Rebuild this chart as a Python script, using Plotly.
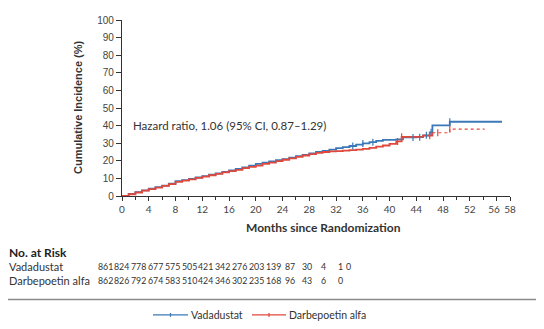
import plotly.graph_objects as go

# ---------------- data ----------------
vad_months = [0, 1, 2, 3, 4, 5, 6, 7, 8, 9, 10, 11, 12, 13, 14, 15, 16, 17, 18, 19, 20,
              21, 22, 23, 24, 25, 26, 27, 28, 29, 30, 31, 32, 33, 34, 35, 36, 37, 38, 39,
              40, 41, 42, 43, 44, 45, 46, 46.4, 49, 56.8]
vad_inc = [0, 1.2, 2.2, 3.2, 4.2, 5.0, 5.9, 7.0, 8.5, 9.0, 9.7, 10.5, 11.3, 12.1, 12.9, 13.7,
           14.6, 15.4, 16.3, 17.3, 18.3, 19.0, 19.6, 20.3, 21.0, 21.8, 22.6, 23.4, 24.2, 25.0,
           25.6, 26.3, 27.2, 27.8, 28.4, 29.2, 29.9, 30.6, 31.3, 31.9, 31.9, 32.2, 33.3, 33.3,
           33.4, 34.5, 36.2, 40.1, 42.2, 42.2]

darb_months = [0, 1, 2, 3, 4, 5, 6, 7, 8, 9, 10, 11, 12, 13, 14, 15, 16, 17, 18, 19, 20,
               21, 22, 23, 24, 25, 26, 27, 28, 29, 30, 31, 32, 33, 34, 35, 36, 37, 38, 39,
               40, 41, 41.8, 45, 46.4]
darb_inc = [0, 1.0, 2.0, 3.0, 3.9, 4.8, 5.7, 6.7, 8.0, 8.7, 9.5, 10.3, 11.0, 11.8, 12.6, 13.4,
            14.1, 14.9, 15.8, 16.6, 17.3, 18.2, 19.0, 19.8, 20.6, 21.4, 22.2, 23.0, 23.8, 24.5,
            25.0, 25.3, 25.5, 25.8, 26.1, 26.4, 26.8, 27.3, 28.0, 28.7, 29.6, 31.0, 33.6, 34.3,
            35.9]
darb_tail_months = [46.4, 49, 54.2]
darb_tail_inc = [35.9, 38.0, 38.0]

vad_censor_m = [34.5, 36, 37.5, 43.5, 44.5, 45.5, 46.2, 49]
vad_censor_v = [28.4, 29.9, 30.6, 33.3, 33.4, 34.5, 36.2, 42.2]
darb_censor_m = [41.2, 41.8, 46.0, 47.2, 49]
darb_censor_v = [31.0, 33.6, 34.3, 35.9, 38.0]

x_ticks = [0, 4, 8, 12, 16, 20, 24, 28, 32, 36, 40, 44, 48, 52, 56, 58]
x_minor = [2, 6, 10, 14, 18, 22, 26, 30, 34, 38, 42, 46, 50, 54]
y_ticks = [0, 10, 20, 30, 40, 50, 60, 70, 80, 90, 100]

risk_months = [0, 4, 8, 12, 16, 20, 24, 28, 32, 36, 40, 44, 48, 52, 56, 58]
risk_vad = [861, 824, 778, 677, 575, 505, 421, 342, 276, 203, 139, 87, 30, 4, 1, 0]
risk_darb = [862, 826, 792, 674, 583, 510, 424, 346, 302, 235, 168, 96, 43, 6, 0]

series_names = ["Vadadustat", "Darbepoetin alfa"]
hr_text = "Hazard ratio, 1.06 (95% CI, 0.87\u20131.29)"

BLUE = "#3b78b8"
RED = "#e0483c"
TXT = "#333333"
W, H = 544, 329
OFF = 8  # page body margin
# plot area in screen pixels
SL, SR, ST, SB = 122, 510, 14, 196
SANS = "Lato"


def px_x(p):
    return (p - SL) / (SR - SL)


def px_y(p):
    return (SB - p) / (SB - ST)


fig = go.Figure()
fig.add_trace(go.Scatter(x=vad_months, y=vad_inc, mode="lines", line=dict(color=BLUE, width=1.8, shape="hv"),
                         showlegend=False, hoverinfo="skip"))
fig.add_trace(go.Scatter(x=darb_months, y=darb_inc, mode="lines", line=dict(color=RED, width=1.8, shape="hv"),
                         showlegend=False, hoverinfo="skip"))
fig.add_trace(go.Scatter(x=darb_tail_months, y=darb_tail_inc, mode="lines",
                         line=dict(color=RED, width=1.1, shape="hv", dash="dot"),
                         showlegend=False, hoverinfo="skip"))
fig.add_trace(go.Scatter(x=vad_censor_m, y=vad_censor_v, mode="markers",
                         marker=dict(symbol="line-ns", size=5, line=dict(color=BLUE, width=1.2)),
                         showlegend=False, hoverinfo="skip"))
fig.add_trace(go.Scatter(x=darb_censor_m, y=darb_censor_v, mode="markers",
                         marker=dict(symbol="line-ns", size=5, line=dict(color=RED, width=1.2)),
                         showlegend=False, hoverinfo="skip"))

annotations = []
shapes = []


def note(text, sx, sy, size, xanchor="center", family=SANS, color=TXT, angle=0):
    annotations.append(dict(x=px_x(sx), y=px_y(sy), xref="paper", yref="paper", text=text,
                            showarrow=False, xanchor=xanchor, yanchor="middle", textangle=angle,
                            font=dict(family=family, size=size, color=color)))


annotations.append(dict(x=1.4, y=40, xref="x", yref="y", text=hr_text, showarrow=False,
                        xanchor="left", yanchor="middle",
                        font=dict(family=SANS, size=11.5, color=TXT)))
note("<b>Cumulative Incidence (%)</b>", 78, 104, 11, family="Liberation Sans", angle=-90)
note("<b>Months since Randomization</b>", 323, 229, 12)
note("<b>No. at Risk</b>", 7, 254, 12, xanchor="left", color="#222")
for name, sy in zip(series_names, (269, 283)):
    note(name, 7, sy, 11, xanchor="left")
for row_vals, sy in ((risk_vad, 269), (risk_darb, 283)):
    for m, v in zip(risk_months, row_vals):
        note(str(v), 105 + (m / 4) * 16.8, sy, 8.8)

# separator line
shapes.append(dict(type="line", xref="paper", yref="paper", x0=px_x(0), x1=px_x(560),
                   y0=px_y(303), y1=px_y(303), line=dict(color="#8a8a8a", width=1.5)))
# manual legend
for name, color, x0, x1 in ((series_names[0], BLUE, 153, 188), (series_names[1], RED, 252, 286)):
    shapes.append(dict(type="line", xref="paper", yref="paper", x0=px_x(x0), x1=px_x(x1),
                       y0=px_y(319), y1=px_y(319), line=dict(color=color, width=1.2)))
    xm = (x0 + x1) / 2
    shapes.append(dict(type="line", xref="paper", yref="paper", x0=px_x(xm), x1=px_x(xm),
                       y0=px_y(317), y1=px_y(321), line=dict(color=color, width=1.2)))
    note(name, x1 + 1, 319, 10.5, xanchor="left")

ticktext = [str(t) for t in x_ticks]
ticktext[-2] = "56\u2002"

fig.update_layout(
    width=W, height=H,
    margin=dict(l=SL - OFF, r=W - (SR - OFF), t=ST - OFF, b=H - (SB - OFF)),
    paper_bgcolor="white", plot_bgcolor="white",
    showlegend=False,
    annotations=annotations,
    shapes=shapes,
    xaxis=dict(range=[0, 58], tickvals=x_ticks, ticktext=ticktext, tickangle=0,
               showgrid=False, zeroline=False, showline=True, linecolor="#333", linewidth=1.2,
               ticks="outside", ticklen=4, tickcolor="#333", tickwidth=1,
               tickfont=dict(family=SANS, size=10, color="#444"),
               minor=dict(tickvals=x_minor, ticks="outside", ticklen=3, tickcolor="#333")),
    yaxis=dict(range=[0, 100], tickvals=y_ticks, showgrid=False, zeroline=False,
               showline=True, linecolor="#333", linewidth=1.2,
               ticks="outside", ticklen=5, tickcolor="#333", tickwidth=1,
               tickfont=dict(family="Liberation Sans", size=10, color="#444")),
)

fig.write_html("out.html")
